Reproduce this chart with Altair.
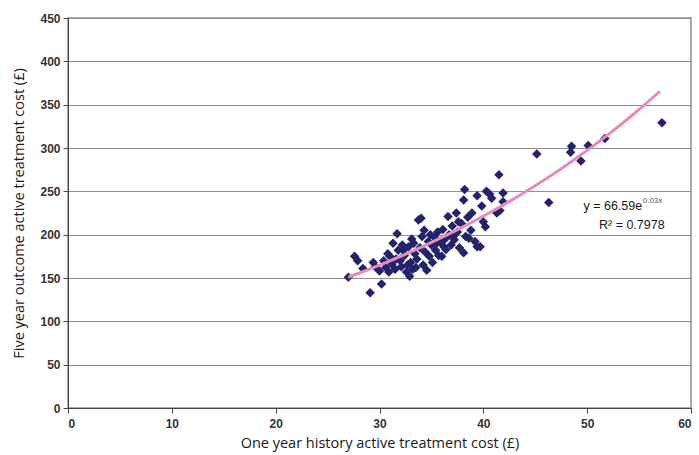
import altair as alt
import pandas as pd

# One year history cost (x) and five year outcome cost (y)
x_vals = [27.0, 27.6, 27.9, 28.4, 29.1, 29.4, 29.6, 30.0, 30.2, 30.4, 30.6, 30.9, 31.0, 31.2,
          31.3, 31.5, 31.7, 31.8, 32.0, 32.1, 32.3, 32.4, 32.6, 32.8, 32.9, 33.0, 33.1, 33.3,
          33.4, 33.5, 33.6, 33.75, 33.9, 34.0, 34.1, 34.2, 34.4, 34.55, 34.7, 34.8, 35.0, 35.1,
          35.3, 35.4, 35.6, 35.7, 35.9, 36.0, 36.1, 36.3, 36.4, 36.6, 36.7, 36.9, 37.0, 37.2,
          37.4, 37.5, 37.7, 37.9, 38.1, 38.1, 38.2, 38.3, 38.5, 38.8, 38.9, 39.2, 39.4, 39.4,
          39.7, 39.85, 40.0, 40.2, 40.3, 40.6, 40.8, 41.3, 41.5, 41.6, 41.9, 41.9, 45.15, 46.3,
          48.4, 48.5, 49.4, 50.1, 51.7, 57.2,
          30.8, 31.6, 32.2, 32.7, 33.2, 34.3, 34.9, 35.5, 36.2, 37.1, 37.6, 38.6]
y_vals = [151, 175, 170, 161, 133, 168, 163, 158, 143, 170, 162, 157, 175, 166,
          190, 160, 201, 182, 170, 163, 182, 176, 157, 186, 152, 168, 195, 190,
          178, 162, 172, 217, 185, 219, 198, 165, 180, 159, 192, 175, 188, 168,
          197, 182, 203, 176, 191, 175, 206, 195, 183, 221, 200, 188, 210, 194,
          225, 203, 185, 213, 179, 240, 252, 198, 220, 205, 225, 192, 186, 245,
          186, 233, 215, 209, 250, 247, 242, 225, 269, 228, 248, 238, 293, 237,
          295, 302, 285, 303, 311, 329,
          178, 172, 188, 165, 160, 205, 200, 190, 186, 198, 215, 196]

x_ticks = [0, 10, 20, 30, 40, 50, 60]
y_ticks = [0, 50, 100, 150, 200, 250, 300, 350, 400, 450]

eq_text = ["y = 66.59e"]
eq_sup = ["0.03x"]
r2_text = ["R\u00b2 = 0.7978"]

df = pd.DataFrame({"x": x_vals, "y": y_vals})

xscale = alt.Scale(domain=[0, 60], nice=False, zero=True)
yscale = alt.Scale(domain=[0, 450], nice=False, zero=True)

x_enc = alt.X("x:Q", scale=xscale,
              axis=alt.Axis(title="One year history active treatment cost (£)", values=x_ticks,
                            grid=False, domainColor="#444444", tickColor="#444444", tickSize=5,
                            labelFont="Liberation Sans", labelFontSize=12, labelFontWeight="bold",
                            labelColor="#333333", labelPadding=5, titleFont="Open Sans",
                            titleFontSize=14.5, titleFontWeight="normal", titleColor="#1a1a1a",
                            titlePadding=7))
y_enc = alt.Y("y:Q", scale=yscale,
              axis=alt.Axis(title="Five year outcome active treatment cost (£)", values=y_ticks,
                            grid=True, gridColor="#8f8f8f", gridWidth=1.2,
                            domainColor="#444444", tickColor="#444444", tickSize=5,
                            labelFont="Liberation Sans", labelFontSize=12, labelFontWeight="bold",
                            labelColor="#333333", labelPadding=3, titleFont="Open Sans",
                            titleFontSize=14.5, titleFontWeight="normal", titleColor="#1a1a1a",
                            titlePadding=13))

points = alt.Chart(df).mark_point(shape="diamond", filled=True, size=90, color="#23236B",
                                  opacity=1).encode(x=x_enc, y=y_enc)

trend = alt.Chart(df).transform_regression(
    "x", "y", method="exp", extent=[27, 57]
).mark_line(color="#E78BBE", strokeWidth=3).encode(
    x=alt.X("x:Q", scale=xscale), y=alt.Y("y:Q", scale=yscale))

ann_df = pd.DataFrame({"x": [55.3], "y": [233], "t": eq_text})
sup_df = pd.DataFrame({"x": [55.35], "y": [239], "t": eq_sup})
r2_df = pd.DataFrame({"x": [54.3], "y": [211], "t": r2_text})

ann = alt.Chart(ann_df).mark_text(align="right", baseline="middle", font="Liberation Sans",
                                  fontSize=12.5, color="#1a1a1a").encode(
    x=alt.X("x:Q", scale=xscale), y=alt.Y("y:Q", scale=yscale), text="t:N")
sup = alt.Chart(sup_df).mark_text(align="left", baseline="middle", font="Liberation Sans",
                                  fontSize=8, color="#555555").encode(
    x=alt.X("x:Q", scale=xscale), y=alt.Y("y:Q", scale=yscale), text="t:N")
r2 = alt.Chart(r2_df).mark_text(align="center", baseline="middle", font="Liberation Sans",
                                fontSize=12.5, color="#1a1a1a").encode(
    x=alt.X("x:Q", scale=xscale), y=alt.Y("y:Q", scale=yscale), text="t:N")

chart = alt.layer(points, trend, ann, sup, r2).properties(
    width=623, height=390,
    autosize=alt.AutoSizeParams(type="none"),
    padding={"left": 68, "top": 18, "right": 8, "bottom": 47},
    background="white",
).configure_view(stroke="#8f8f8f", strokeWidth=1.5)

chart.save("out.html", embed_options={"renderer": "svg", "actions": False})
